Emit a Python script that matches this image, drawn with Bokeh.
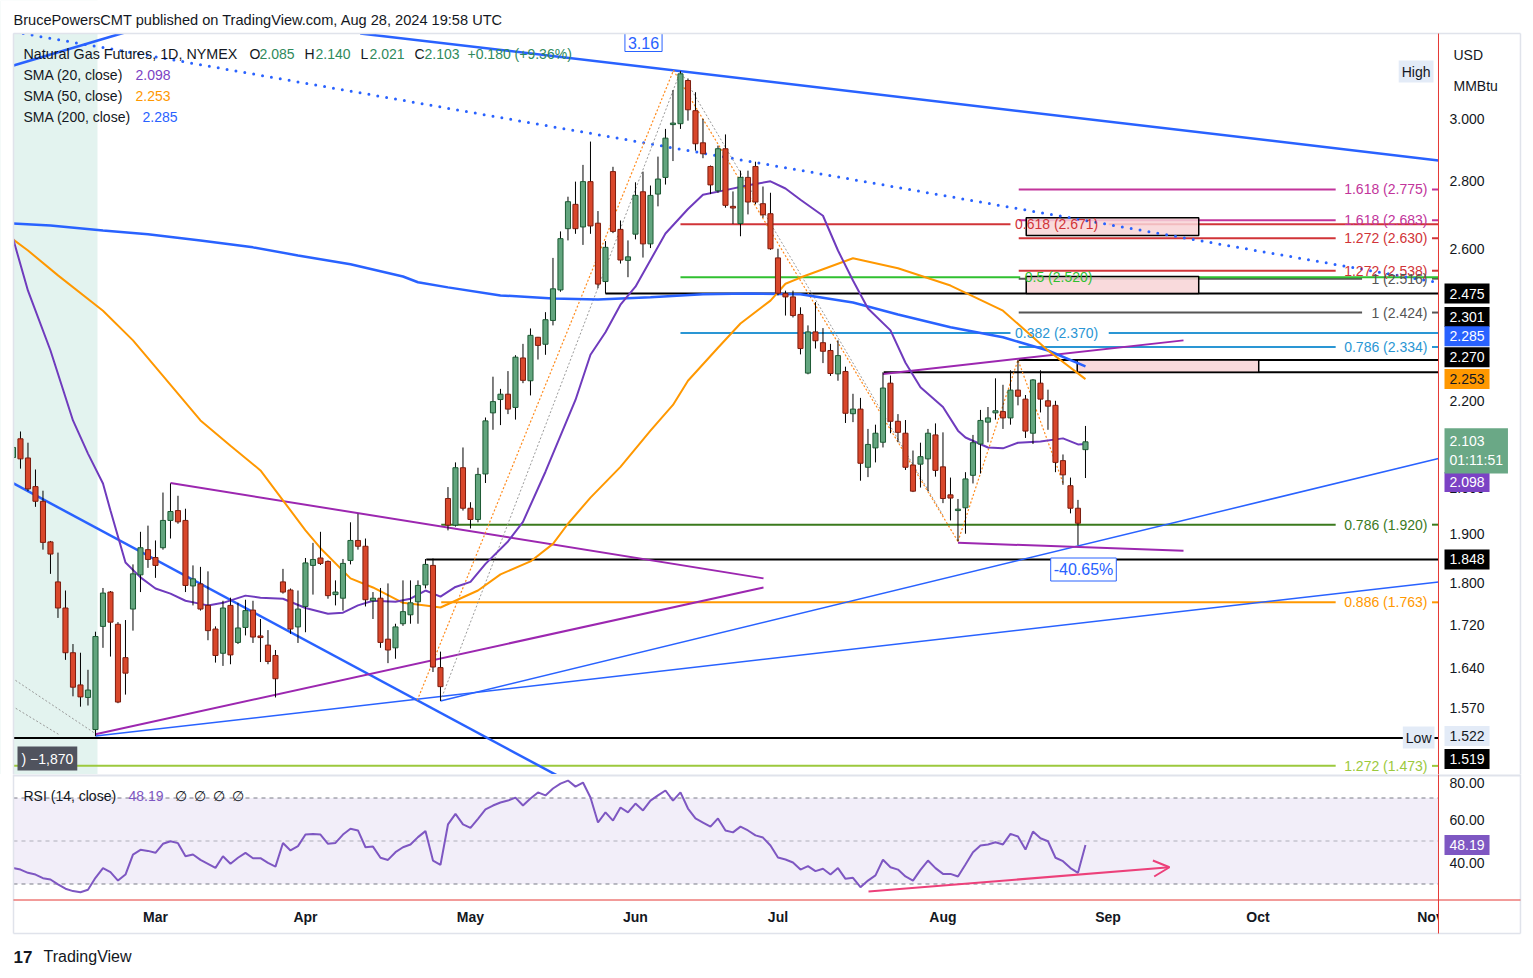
from bokeh.plotting import figure
from bokeh.layouts import column
from bokeh.models import (Range1d, Label, BoxAnnotation, Arrow, OpenHead, ColumnDataSource)
from bokeh.embed import file_html
from bokeh.resources import INLINE

FONT = "Liberation Sans"
DARK = "#131722"

# ---------------- data (daily bars, Feb 2 .. Aug 28 2024, x = trading-day index) -------------
opens = [2.067, 2.110, 2.066, 2.002, 1.970, 1.884, 1.803, 1.752, 1.668, 1.610,
         1.588, 1.533, 1.717, 1.783, 1.721, 1.659, 1.750, 1.817, 1.868, 1.852,
         1.872, 1.929, 1.950, 1.929, 1.795, 1.799, 1.757, 1.712, 1.667, 1.757,
         1.687, 1.715, 1.748, 1.699, 1.682, 1.663, 1.803, 1.787, 1.716, 1.755,
         1.836, 1.851, 1.844, 1.778, 1.771, 1.846, 1.887, 1.875, 1.766, 1.771,
         1.693, 1.677, 1.722, 1.739, 1.764, 1.797, 1.836, 1.641, 1.976, 1.919,
         2.044, 1.955, 1.931, 2.030, 2.171, 2.203, 2.216, 2.184, 2.306, 2.249,
         2.359, 2.341, 2.403, 2.485, 2.658, 2.730, 2.663, 2.799, 2.674, 2.508,
         2.830, 2.656, 2.567, 2.642, 2.768, 2.614, 2.761, 2.812, 2.980, 2.983,
         3.128, 3.026, 2.921, 2.846, 2.771, 2.902, 2.724, 2.673, 2.812, 2.846,
         2.732, 2.702, 2.574, 2.475, 2.466, 2.419, 2.268, 2.373, 2.345, 2.325,
         2.266, 2.272, 2.169, 2.180, 2.045, 2.089, 2.102, 2.243, 2.151, 2.123,
         2.050, 2.052, 2.064, 2.119, 2.046, 1.984, 1.950, 1.956, 2.027, 2.098,
         2.149, 2.171, 2.174, 2.159, 2.226, 2.204, 2.123, 2.243, 2.200, 2.189,
         2.060, 2.004, 1.955, 2.085]
highs = [2.100, 2.127, 2.101, 2.040, 1.993, 1.886, 1.862, 1.786, 1.684, 1.668,
         1.637, 1.707, 1.791, 1.785, 1.725, 1.729, 1.838, 1.905, 1.918, 1.887,
         1.989, 2.009, 1.982, 1.954, 1.836, 1.833, 1.824, 1.717, 1.766, 1.772,
         1.762, 1.768, 1.766, 1.731, 1.710, 1.673, 1.829, 1.790, 1.786, 1.851,
         1.882, 1.905, 1.846, 1.806, 1.849, 1.925, 1.943, 1.891, 1.783, 1.791,
         1.800, 1.722, 1.806, 1.806, 1.806, 1.849, 1.850, 1.670, 2.001, 2.056,
         2.090, 1.968, 2.044, 2.160, 2.259, 2.229, 2.273, 2.313, 2.342, 2.382,
         2.360, 2.425, 2.574, 2.650, 2.753, 2.799, 2.851, 2.925, 2.710, 2.622,
         2.845, 2.682, 2.624, 2.797, 2.830, 2.787, 2.877, 2.966, 3.095, 3.160,
         3.135, 3.088, 2.999, 2.849, 2.912, 2.948, 2.769, 2.833, 2.833, 2.861,
         2.784, 2.765, 2.600, 2.483, 2.483, 2.438, 2.390, 2.452, 2.383, 2.342,
         2.351, 2.284, 2.217, 2.207, 2.133, 2.143, 2.270, 2.262, 2.168, 2.154,
         2.083, 2.101, 2.133, 2.146, 2.125, 2.022, 1.975, 2.034, 2.119, 2.178,
         2.185, 2.255, 2.239, 2.275, 2.301, 2.214, 2.253, 2.275, 2.227, 2.200,
         2.074, 2.022, 1.973, 2.140]
lows = [2.045, 2.042, 1.992, 1.958, 1.868, 1.819, 1.733, 1.655, 1.590, 1.572,
        1.574, 1.522, 1.677, 1.661, 1.578, 1.593, 1.709, 1.783, 1.831, 1.811,
        1.868, 1.891, 1.922, 1.783, 1.757, 1.747, 1.691, 1.650, 1.644, 1.647,
        1.684, 1.700, 1.686, 1.651, 1.647, 1.588, 1.780, 1.703, 1.686, 1.706,
        1.778, 1.837, 1.770, 1.757, 1.747, 1.838, 1.868, 1.755, 1.731, 1.677,
        1.649, 1.657, 1.718, 1.722, 1.722, 1.790, 1.633, 1.582, 1.908, 1.916,
        1.950, 1.912, 1.925, 2.010, 2.131, 2.142, 2.168, 2.155, 2.243, 2.213,
        2.302, 2.314, 2.390, 2.480, 2.624, 2.643, 2.611, 2.643, 2.490, 2.475,
        2.645, 2.558, 2.520, 2.627, 2.575, 2.602, 2.724, 2.790, 2.863, 2.966,
        2.993, 2.896, 2.872, 2.761, 2.765, 2.720, 2.672, 2.636, 2.700, 2.730,
        2.690, 2.597, 2.470, 2.416, 2.411, 2.315, 2.265, 2.330, 2.293, 2.261,
        2.249, 2.147, 2.149, 2.015, 2.023, 2.056, 2.090, 2.123, 2.102, 2.039,
        1.990, 2.000, 1.992, 2.024, 1.966, 1.929, 1.885, 1.901, 2.009, 2.031,
        2.102, 2.155, 2.133, 2.143, 2.189, 2.112, 2.098, 2.172, 2.131, 2.034,
        2.006, 1.944, 1.877, 2.021]
closes = [2.090, 2.064, 1.997, 1.970, 1.883, 1.859, 1.752, 1.668, 1.606, 1.589,
          1.601, 1.698, 1.781, 1.725, 1.580, 1.631, 1.819, 1.872, 1.848, 1.836,
          1.929, 1.948, 1.926, 1.796, 1.809, 1.750, 1.709, 1.663, 1.752, 1.664,
          1.714, 1.747, 1.697, 1.696, 1.652, 1.621, 1.783, 1.712, 1.750, 1.841,
          1.848, 1.840, 1.776, 1.783, 1.840, 1.887, 1.875, 1.768, 1.771, 1.687,
          1.673, 1.716, 1.745, 1.762, 1.796, 1.838, 1.642, 1.607, 1.919, 2.044,
          1.955, 1.931, 2.029, 2.152, 2.198, 2.216, 2.180, 2.308, 2.250, 2.364,
          2.338, 2.405, 2.488, 2.629, 2.738, 2.658, 2.799, 2.666, 2.501, 2.604,
          2.650, 2.568, 2.577, 2.757, 2.614, 2.757, 2.807, 2.936, 2.985, 3.151,
          3.029, 2.918, 2.886, 2.789, 2.902, 2.727, 2.719, 2.812, 2.737, 2.737,
          2.699, 2.600, 2.476, 2.466, 2.416, 2.330, 2.373, 2.350, 2.323, 2.267,
          2.312, 2.170, 2.180, 2.054, 2.097, 2.123, 2.231, 2.151, 2.125, 2.045,
          1.992, 2.069, 2.123, 2.038, 1.976, 1.977, 1.953, 2.019, 2.101, 2.153,
          2.159, 2.176, 2.159, 2.226, 2.211, 2.128, 2.251, 2.204, 2.187, 2.056,
          2.028, 1.955, 1.923, 2.103]
bar_index = list(range(len(closes)))

month_ticks = [19, 39, 61, 83, 102, 124, 146, 166, 189]
month_labels = ["Mar", "Apr", "May", "Jun", "Jul", "Aug", "Sep", "Oct", "Nov"]
price_ticks = [1.57, 1.64, 1.72, 1.80, 1.90, 2.00, 2.20, 2.40, 2.60, 2.80, 3.00]
rsi_ticks = [40, 60, 80]

sma20_x = [0, 2, 5, 8, 10, 12, 13, 15, 17, 19, 21, 23, 25, 26, 28, 31, 33, 36, 39, 42,
           44, 46, 48, 51, 53, 55, 57, 59, 61, 63, 66, 68, 71, 75, 77, 79, 81, 83, 87, 90,
           92, 95, 98, 101, 103, 105, 108, 110, 112, 114, 117, 119, 121, 124, 126, 127, 130,
           132, 134, 137, 140, 142, 143]
sma20_v = [2.630, 2.483, 2.325, 2.153, 2.076, 2.009, 1.950, 1.842, 1.812, 1.790,
           1.780, 1.766, 1.760, 1.757, 1.762, 1.776, 1.772, 1.770, 1.752, 1.741,
           1.743, 1.757, 1.766, 1.764, 1.770, 1.786, 1.774, 1.793, 1.803, 1.839,
           1.885, 1.926, 2.035, 2.202, 2.314, 2.372, 2.445, 2.494, 2.644, 2.716,
           2.759, 2.773, 2.788, 2.800, 2.778, 2.744, 2.696, 2.595, 2.511, 2.435,
           2.377, 2.294, 2.233, 2.185, 2.129, 2.113, 2.090, 2.088, 2.101, 2.104,
           2.111, 2.097, 2.098]
sma50_x = [0, 2, 6, 12, 16, 20, 25, 29, 33, 36, 39, 41, 45, 48, 52, 55, 57, 62, 65, 69,
           72, 74, 77, 81, 85, 88, 90, 94, 97, 101, 103, 105, 112, 118, 125, 132, 138, 143]
sma50_v = [2.627, 2.595, 2.525, 2.429, 2.351, 2.261, 2.153, 2.094, 2.038, 1.972,
           1.908, 1.871, 1.810, 1.792, 1.762, 1.757, 1.753, 1.786, 1.818, 1.844,
           1.880, 1.922, 1.978, 2.046, 2.129, 2.190, 2.249, 2.332, 2.395, 2.456,
           2.502, 2.519, 2.573, 2.545, 2.497, 2.429, 2.325, 2.253]
sma200_x = [0, 5, 12, 18, 25, 32, 38, 45, 52, 54, 58, 65, 72, 78, 85, 92, 98, 105, 112,
            118, 125, 132, 138, 143]
sma200_v = [2.673, 2.667, 2.653, 2.642, 2.624, 2.604, 2.581, 2.556, 2.522, 2.506,
            2.492, 2.470, 2.462, 2.459, 2.465, 2.473, 2.475, 2.473, 2.451, 2.419,
            2.385, 2.359, 2.325, 2.285]

rsi = [37.4, 36.7, 35.2, 34.4, 32.7, 32.1, 29.8, 27.8, 26.7, 26.2,
       27.3, 32.9, 37.4, 35.5, 31.6, 34.4, 43.7, 45.9, 45.4, 44.5,
       48.7, 49.9, 49.0, 42.9, 43.7, 41.2, 39.4, 37.5, 42.9, 39.4,
       42.2, 44.5, 42.0, 42.0, 39.8, 38.1, 49.1, 45.6, 47.6, 53.0,
       53.3, 53.0, 48.7, 49.1, 53.0, 55.7, 54.9, 47.1, 47.4, 42.2,
       41.2, 44.8, 47.1, 48.4, 51.8, 54.6, 40.9, 38.9, 57.7, 62.6,
       57.7, 56.1, 60.3, 64.7, 66.5, 67.9, 68.8, 70.2, 66.5, 69.8,
       72.6, 71.2, 74.4, 76.7, 78.1, 75.3, 77.2, 70.2, 58.6, 63.3,
       59.5, 65.6, 63.3, 67.4, 64.2, 68.8, 71.2, 73.5, 68.8, 72.6,
       65.1, 60.5, 58.6, 56.7, 60.5, 54.9, 54.0, 56.7, 54.9, 52.6,
       51.6, 47.9, 42.3, 41.4, 40.0, 36.7, 38.3, 36.0, 37.1, 34.4,
       37.4, 32.4, 32.9, 28.5, 31.6, 34.0, 41.3, 37.8, 36.7, 33.5,
       31.6, 36.6, 40.9, 37.4, 34.7, 34.7, 33.5, 39.1, 44.8, 47.9,
       48.4, 49.4, 48.4, 53.3, 52.1, 46.0, 54.4, 51.3, 49.9, 42.2,
       40.6, 37.4, 35.2, 48.19]

# drawn objects (x = bar index, y = price)
fib_right = [  # level, label, colour, start index
    (2.775, "1.618 (2.775)", "#c2349b", 134.1),
    (2.683, "1.618 (2.683)", "#c2349b", 134.1),
    (2.630, "1.272 (2.630)", "#d13438", 134.1),
    (2.538, "1.272 (2.538)", "#d13438", 134.1),
    (2.516, "1 (2.516)", "#555555", 134.1),
    (2.424, "1 (2.424)", "#555555", 134.1),
    (2.334, "0.786 (2.334)", "#2a96d4", 134.1),
    (1.920, "0.786 (1.920)", "#3b7a1e", 57.1),
    (1.763, "0.886 (1.763)", "#ff9800", 57.1),
    (1.473, "1.272 (1.473)", "#9cc93d", 0.0),
]
fib_left = [  # level, label, colour, start index, label start index, label end index
    (2.671, "0.618 (2.671)", "#d13438", 89.0, 133.6, 145.5),
    (2.520, "0.5 (2.520)", "#30c030", 89.0, 134.9, 144.4),
    (2.370, "0.382 (2.370)", "#2a96d4", 89.0, 133.6, 145.5),
]
black_levels = [(2.475, 79.0), (2.301, 134.1), (2.270, 116.1), (1.848, 55.1), (1.519, 0.0)]
boxes = [  # left, right, bottom, top
    (135.1, 158.1, 2.638, 2.690),
    (135.1, 158.1, 2.475, 2.522),
    (141.9, 166.1, 2.270, 2.301),
]
trend_blue_thick = [([46.3, 190.07], [3.294, 2.865]), ([0.07, 20.3], [3.180, 3.341]),
                    ([0.07, 78.3], [2.009, 1.421])]
trend_blue_thin = [([11.0, 190.07], [1.522, 1.803]), ([57.0, 190.07], [1.582, 2.065])]
trend_blue_dotted = ([-1.0, 190.07], [3.305, 2.505])
trend_purple = [([21.0, 100.07], [2.010, 1.810]), ([11.0, 100.07], [1.525, 1.792]),
                ([116.0, 156.07], [2.266, 2.351]), ([126.0, 156.07], [1.882, 1.866])]
zig_orange = [([53.9, 88.07, 126.0], [1.583, 3.163, 1.885]),
              ([126.0, 134.0, 140.1], [1.885, 2.301, 2.006])]
zig_gray = [([57.0, 89.0, 124.0], [1.582, 3.160, 1.940]),
            ([-1.0, 11.0], [1.630, 1.526]), ([-1.0, 6.07], [1.580, 1.525])]
rsi_arrow = (114.07, 26.5, 154.2, 37.8)

# ---------------- layout constants (canvas = whole page; x in bar-index units) ----------
XL, XR = -1.6633, 202.7367          # page left / right edge
X_PANE_L, X_PANE_R, X_EDGE = 0.07, 190.07, 201.0   # chart left, price-scale line, outer border
P_TOP, P_BOT = 3.4154, 1.4591       # main pane: page top .. separator
P_CHART_TOP = 3.2937                # chart top border
R_TOP, R_BOT = 80.93, -13.95        # rsi pane: separator .. page bottom
R_AXIS, R_BORDER = 22.56, 6.98      # red time-axis line, outer bottom border
MASK = "#ffffff"
BORDER = "#e0e3eb"
RED = "#e53935"

p1 = figure(frame_width=1533, frame_height=774, x_range=Range1d(XL, XR),
            y_range=Range1d(P_BOT, P_TOP), y_axis_type="log",
            x_axis_location=None, y_axis_location=None, toolbar_location=None,
            output_backend="svg", title=None, min_border=0)
p1.outline_line_color = None
p1.grid.visible = False

p1.add_layout(BoxAnnotation(left=-3, right=11.27, fill_color="#e3f3ef", fill_alpha=1.0,
                            line_color=None, level="underlay"))

for lvl, txt, col, x_start in fib_right:
    gap_l = 188.6 - (len(txt) * 6.6 + 6) / 7.5
    p1.line([x_start, gap_l], [lvl, lvl], line_color=col, line_width=2)
    p1.line([189.2, X_PANE_R], [lvl, lvl], line_color=col, line_width=2)
for lvl, txt, col, x_start, lab_l, lab_r in fib_left:
    p1.line([x_start, lab_l - 0.6], [lvl, lvl], line_color=col, line_width=2)
    p1.line([lab_r + 0.6, X_PANE_R], [lvl, lvl], line_color=col, line_width=2)
for lvl, x_start in black_levels:
    p1.line([x_start, X_PANE_R], [lvl, lvl], line_color="#000000", line_width=2)

for l, r, b, t in boxes:
    p1.quad(left=l, right=r, bottom=b, top=t, fill_color="#f8d3d6", fill_alpha=0.85,
            line_color="#000000", line_width=1.5)

for xs, ys in trend_blue_thick:
    p1.line(xs, ys, line_color="#2962ff", line_width=2.5)
for xs, ys in trend_blue_thin:
    p1.line(xs, ys, line_color="#2962ff", line_width=1.5)
p1.line(trend_blue_dotted[0], trend_blue_dotted[1], line_color="#2962ff", line_width=3,
        line_dash="0 9", line_cap="round")
for xs, ys in trend_purple:
    p1.line(xs, ys, line_color="#9c27b0", line_width=2)
for xs, ys in zig_gray:
    p1.line(xs, ys, line_color="#9a9a9a", line_width=1, line_dash="2 2")
for xs, ys in zig_orange:
    p1.line(xs, ys, line_color="#ff8a1c", line_width=1.2, line_dash="2 2")

p1.line(sma200_x, sma200_v, line_color="#2962ff", line_width=2.5)
p1.line(sma50_x, sma50_v, line_color="#ff9800", line_width=2)
p1.line(sma20_x, sma20_v, line_color="#6f3bbd", line_width=2)

up = [c >= o for o, c in zip(opens, closes)]
src = ColumnDataSource(dict(
    x=bar_index, h=highs, l=lows,
    top=[max(o, c) for o, c in zip(opens, closes)],
    bottom=[min(o, c) for o, c in zip(opens, closes)],
    fill=["#62a57e" if u else "#d9472b" for u in up],
    edge=["#1d5a34" if u else "#7d1d0f" for u in up]))
p1.segment(x0="x", y0="h", x1="x", y1="l", source=src, line_color="#000000", line_width=1)
p1.vbar(x="x", width=0.68, top="top", bottom="bottom", source=src, fill_color="fill",
        line_color="edge", line_width=1)


def lab(p, cx, cy, text, fh, color=DARK, size="14px", align="left", bg=None, border=None,
        pad=0, bold=False, data_y=None, dy=0, data_x=None):
    """cx, cy: page pixel position; fh: page y of the bottom of the figure's frame."""
    kw = dict(text=text, text_color=color, text_font=FONT, text_font_size=size,
              text_align=align, text_baseline="middle")
    if data_x is None:
        kw.update(x=cx, x_units="screen")
    else:
        kw.update(x=data_x, x_units="data")
    if data_y is None:
        kw.update(y=fh - cy, y_units="screen")
    else:
        kw.update(y=data_y, y_units="data", y_offset=dy)
    if bg is not None:
        kw.update(background_fill_color=bg, background_fill_alpha=1.0)
    if border is not None:
        kw.update(border_line_color=border, border_line_width=1)
    if pad:
        kw.update(padding=pad)
    if bold:
        kw.update(text_font_style="bold")
    p.add_layout(Label(**kw))


H1, H2 = 774, 978   # page y of the bottom of each figure

for lvl, txt, col, x_start in fib_right:
    lab(p1, 0, 0, txt, H1, color=col, align="right", data_x=188.6, data_y=lvl)
for lvl, txt, col, x_start, lab_l, lab_r in fib_left:
    lab(p1, 0, 0, txt, H1, color=col, data_x=lab_l, data_y=lvl)

GREEN_T = "#2f8a5c"
lab(p1, 23, 53, "Natural Gas Futures, 1D, NYMEX", H1, size="14.3px")
for cx, t, c in [(249, "O", DARK), (259, "2.085", GREEN_T), (304, "H", DARK), (315, "2.140", GREEN_T),
                 (360, "L", DARK), (369, "2.021", GREEN_T), (414, "C", DARK), (424, "2.103", GREEN_T),
                 (467, "+0.180 (+9.36%)", GREEN_T)]:
    lab(p1, cx, 53, t, H1, color=c)
lab(p1, 23, 74, "SMA (20, close)", H1)
lab(p1, 135, 74, "2.098", H1, color="#7b42c4")
lab(p1, 23, 95, "SMA (50, close)", H1)
lab(p1, 135, 95, "2.253", H1, color="#ff9800")
lab(p1, 23, 116, "SMA (200, close)", H1)
lab(p1, 142, 116, "2.285", H1, color="#2962ff")
lab(p1, 1433, 71, "High", H1, align="right", bg="#e3ebf7", pad=3)
lab(p1, 1434, 737, "Low", H1, align="right", bg="#e3ebf7", pad=3)
lab(p1, 17, 758, ") \u22121,870", H1, color="#ffffff", bg="#50535e", pad=4)

# masks outside the chart pane (header strip, left margin, price scale)
p1.add_layout(BoxAnnotation(bottom=P_CHART_TOP, fill_color=MASK, fill_alpha=1, line_color=None))
p1.add_layout(BoxAnnotation(right=X_PANE_L, fill_color=MASK, fill_alpha=1, line_color=None))
p1.add_layout(BoxAnnotation(left=X_PANE_R, fill_color=MASK, fill_alpha=1, line_color=None))

p1.line([X_PANE_L, X_EDGE], [P_CHART_TOP, P_CHART_TOP], line_color=BORDER, line_width=1.5, level="overlay")
p1.line([X_PANE_L, X_PANE_L], [P_CHART_TOP, P_BOT], line_color=BORDER, line_width=1.5, level="overlay")
p1.line([X_EDGE, X_EDGE], [P_CHART_TOP, P_BOT], line_color=BORDER, line_width=1.5, level="overlay")
p1.line([X_PANE_R, X_PANE_R], [P_CHART_TOP, P_BOT], line_color=RED, line_width=1, level="overlay")

lab(p1, 13, 19, "BrucePowersCMT published on TradingView.com, Aug 28, 2024 19:58 UTC", H1,
    size="14.6px")
lab(p1, 643, 42, "3.16", H1, color="#2962ff", size="16px", align="center", bg="#ffffff",
    border="#2962ff", pad=3)
lab(p1, 1083, 569, "-40.65%", H1, color="#2962ff", size="16px", align="center", bg="#ffffff",
    border="#2962ff", pad=3)

for t in price_ticks:
    lab(p1, 1449, 0, "%.3f" % t, H1, data_y=t)
lab(p1, 1453, 54, "USD", H1)
lab(p1, 1453, 85, "MMBtu", H1)
for txt, lvl, dy, bg, fg in [("2.475", 2.475, 0, "#000000", "#ffffff"),
                             ("2.301", 2.301, 43, "#000000", "#ffffff"),
                             ("2.285", 2.285, 30, "#2962ff", "#ffffff"),
                             ("2.270", 2.270, 15, "#000000", "#ffffff"),
                             ("2.253", 2.253, 0, "#ff9800", DARK),
                             ("2.098", 2.098, -38, "#7b42c4", "#ffffff"),
                             ("1.848", 1.848, 0, "#000000", "#ffffff"),
                             ("1.522", 1.522, 0, "#e3ebf7", DARK),
                             ("1.519", 1.519, -21, "#000000", "#ffffff")]:
    lab(p1, 1444, 0, txt, H1, color=fg, bg=bg, pad=5, data_y=lvl, dy=dy)
lab(p1, 1444, 0, "2.103\n01:11:51", H1, color="#ffffff", bg="#6aa886", pad=5,
    data_y=2.103, dy=-9)

# ---------------- RSI panel ----------------
p2 = figure(frame_width=1533, frame_height=204, x_range=p1.x_range,
            y_range=Range1d(R_BOT, R_TOP), x_axis_location=None, y_axis_location=None,
            toolbar_location=None, output_backend="svg", title=None, min_border=0)
p2.outline_line_color = None
p2.grid.visible = False

p2.add_layout(BoxAnnotation(bottom=30, top=70, left=X_PANE_L, right=X_PANE_R,
                            fill_color="#7e57c2", fill_alpha=0.1, line_color=None,
                            level="underlay"))
for lv, a in [(70, 1.0), (50, 0.55), (30, 1.0)]:
    p2.line([X_PANE_L, X_PANE_R], [lv, lv], line_color="#787b86", line_alpha=a,
            line_dash="4 4", line_width=1)
p2.line(bar_index, rsi, line_color="#7e57c2", line_width=2)
p2.add_layout(Arrow(x_start=rsi_arrow[0], y_start=rsi_arrow[1], x_end=rsi_arrow[2],
                    y_end=rsi_arrow[3], line_color="#ec407a", line_width=2,
                    end=OpenHead(size=16, line_color="#ec407a", line_width=2)))

lab(p2, 23, 795, "RSI (14, close)", H2)
lab(p2, 128, 795, "48.19", H2, color="#7e57c2")
for cx in (174, 193, 212, 231):
    lab(p2, cx, 795, "\u2205", H2)

for t, s in zip(month_ticks, month_labels):
    lab(p2, 0, 916, s, H2, align="center", bold=True, data_x=t)

p2.add_layout(BoxAnnotation(right=X_PANE_L, fill_color=MASK, fill_alpha=1, line_color=None))
p2.add_layout(BoxAnnotation(left=X_PANE_R, fill_color=MASK, fill_alpha=1, line_color=None))
p2.add_layout(BoxAnnotation(top=R_BORDER, fill_color=MASK, fill_alpha=1, line_color=None))

p2.line([X_PANE_L, X_EDGE], [R_TOP - 0.5, R_TOP - 0.5], line_color=BORDER, line_width=2, level="overlay")
p2.line([X_PANE_L, X_PANE_L], [R_TOP, R_BORDER], line_color=BORDER, line_width=1.5, level="overlay")
p2.line([X_EDGE, X_EDGE], [R_TOP, R_BORDER], line_color=BORDER, line_width=1.5, level="overlay")
p2.line([X_PANE_L, X_EDGE], [R_BORDER, R_BORDER], line_color=BORDER, line_width=1.5, level="overlay")
p2.line([X_PANE_L, X_EDGE], [R_AXIS, R_AXIS], line_color=RED, line_width=1, level="overlay")
p2.line([X_PANE_R, X_PANE_R], [R_TOP, R_BORDER], line_color=RED, line_width=1, level="overlay")

for t in rsi_ticks:
    lab(p2, 1449, 0, "%.2f" % t, H2, data_y=t, dy=(-7 if t == 80 else 0))
lab(p2, 1444, 0, "48.19", H2, color="#ffffff", bg="#7e57c2", pad=5, data_y=48.19)
lab(p2, 13, 956, "17", H2, size="17px", bold=True)
lab(p2, 43, 956, "TradingView", H2, size="16px")

layout = column(p1, p2, spacing=0)
open("out.html", "w").write(file_html(layout, INLINE))
